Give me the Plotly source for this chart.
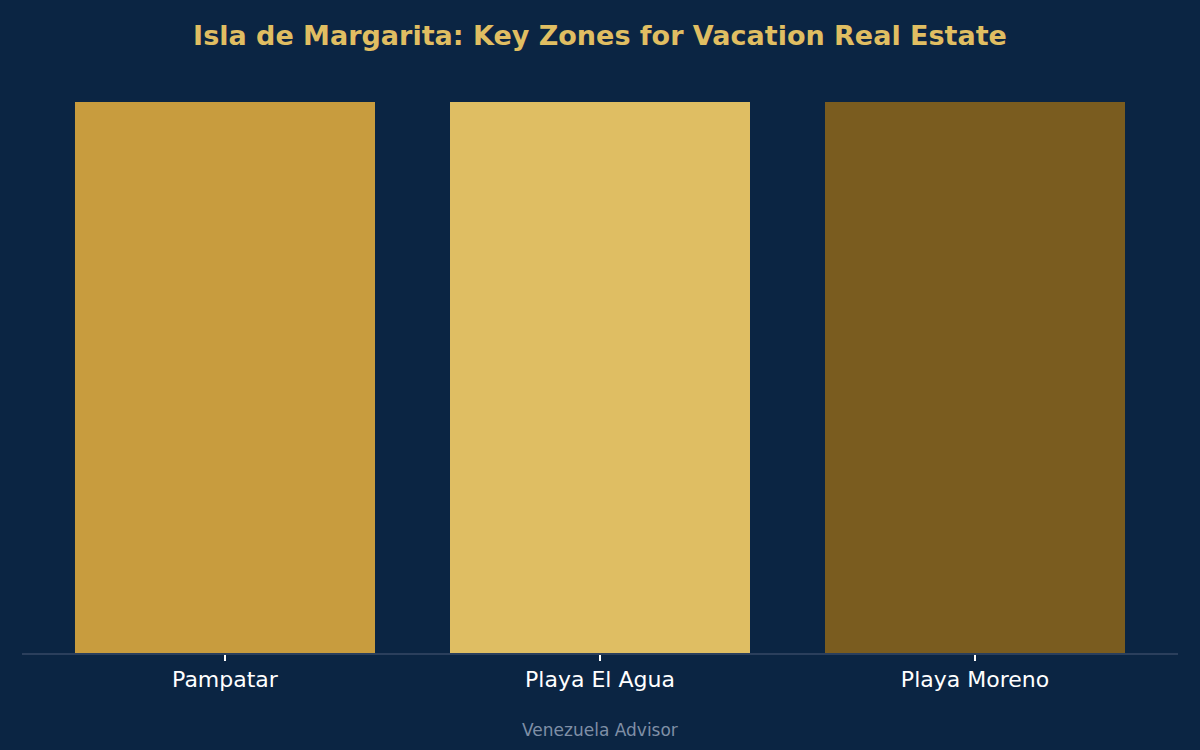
import plotly.graph_objects as go

zones = ["Pampatar", "Playa El Agua", "Playa Moreno"]
values = [1, 1, 1]
colors = ["#C89C3E", "#DFBE63", "#7A5C1F"]

bg = "#0B2543"

fig = go.Figure()
fig.add_trace(go.Bar(x=zones, y=values, marker=dict(color=colors, line=dict(width=0)),
                     hoverinfo="x"))

fig.update_layout(
    width=1200, height=750,
    paper_bgcolor=bg, plot_bgcolor=bg,
    font=dict(family="DejaVu Sans", color="#FFFFFF"),
    title=dict(text="<b>Isla de Margarita: Key Zones for Vacation Real Estate</b>",
               x=0.5, xanchor="center", y=0.952, yanchor="middle",
               font=dict(size=27, color="#E0BE62")),
    margin=dict(l=22, r=22, t=102, b=97),
    bargap=0.2,
    showlegend=False,
    xaxis=dict(range=[-0.5413, 2.5413], showgrid=False, showline=True,
               linecolor="#2B3F5C", linewidth=2, ticks="outside", ticklen=6,
               tickcolor="#FFFFFF", tickwidth=2, tickfont=dict(size=22, color="#FFFFFF")),
    yaxis=dict(range=[0, 1], visible=False),
    annotations=[dict(text="Venezuela Advisor", xref="paper", yref="paper",
                      x=0.5, y=-0.1405, xanchor="center", yanchor="middle",
                      showarrow=False, font=dict(size=17, color="#7F8FA6"))],
)

fig.write_html("out.html", config={"displayModeBar": False},
               post_script="document.body.style.margin='0';")
